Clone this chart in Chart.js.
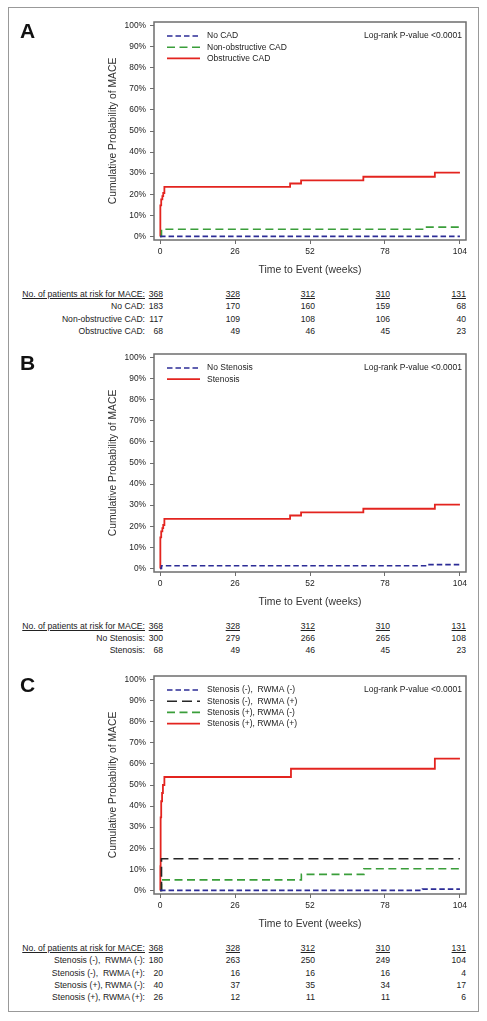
<!DOCTYPE html>
<html>
<head>
<meta charset="utf-8">
<script src="https://cdn.jsdelivr.net/npm/chart.js@4/dist/chart.umd.min.js"></script>
<style>
  body { margin: 0; background: #fff; }
  #page { position: relative; width: 487px; height: 1021px; font-family: "Liberation Sans", Arial, sans-serif; color: #222; }
  #frame { position: absolute; left: 8px; top: 7px; width: 471px; height: 1005px; border: 1px solid #999; box-sizing: border-box; }
  canvas { position: absolute; left: 0; }
  .letter { position: absolute; left: 20px; font-weight: bold; font-size: 21px; line-height: 24px; color: #111; }
  .cell { position: absolute; font-size: 8.6px; line-height: 12px; height: 12px; text-align: right; white-space: pre; color: #222; }
  .head { text-decoration: underline; }
</style>
</head>
<body>
<div id="page">
  <div id="frame"></div>
</div>
<script>
/* ==== DATOS ==== */
const xTicks = [0, 26, 52, 78, 104];
const yTicks = [0, 10, 20, 30, 40, 50, 60, 70, 80, 90, 100];

// Panel A
const aNoCadT = [0, 104];
const aNoCadP = [0, 0];
const aNonObsT = [0, 0.5, 91.9, 104];
const aNonObsP = [0, 3.4, 4.4, 4.4];
const aObsT = [0, 0.1, 0.4, 0.8, 1.1, 1.5, 45.1, 48.9, 70.5, 95.3, 104];
const aObsP = [0, 14.7, 17.6, 19.1, 20.6, 23.5, 25.1, 26.6, 28.3, 30.3, 30.3];

// Panel B
const bNoStenT = [0, 0.5, 92.4, 104];
const bNoStenP = [0, 1.3, 1.8, 1.8];
const bStenT = [0, 0.1, 0.4, 0.8, 1.1, 1.5, 45.1, 48.9, 70.5, 95.3, 104];
const bStenP = [0, 14.7, 17.6, 19.1, 20.6, 23.5, 25.1, 26.6, 28.3, 30.3, 30.3];

// Panel C
const cNegNegT = [0, 91.0, 104];
const cNegNegP = [0, 0.6, 0.6];
const cNegPosT = [0, 0.5, 104];
const cNegPosP = [0, 15.0, 15.0];
const cPosNegT = [0, 0.5, 49.0, 70.7, 104];
const cPosNegP = [0, 5.0, 7.6, 10.3, 10.3];
const cPosPosT = [0, 0.1, 0.2, 0.4, 0.7, 1.0, 1.5, 45.4, 95.3, 104];
const cPosPosP = [0, 11.5, 34.6, 42.3, 46.2, 50.0, 53.8, 57.7, 62.5, 62.5];

// Pacientes en riesgo
const riskHeader = "No. of patients at risk for MACE:";
const riskTotal = [368, 328, 312, 310, 131];
const riskALabels = ["No CAD:", "Non-obstructive CAD:", "Obstructive CAD:"];
const riskA = [[183, 170, 160, 159, 68], [117, 109, 108, 106, 40], [68, 49, 46, 45, 23]];
const riskBLabels = ["No Stenosis:", "Stenosis:"];
const riskB = [[300, 279, 266, 265, 108], [68, 49, 46, 45, 23]];
const riskCLabels = ["Stenosis (-),  RWMA (-):", "Stenosis (-),  RWMA (+):", "Stenosis (+), RWMA (-):", "Stenosis (+), RWMA (+):"];
const riskC = [[180, 263, 250, 249, 104], [20, 16, 16, 16, 4], [40, 37, 35, 34, 17], [26, 12, 11, 11, 6]];

const pText = "Log-rank P-value <0.0001";

/* ==== ESTILOS ==== */
const FONT = '"Liberation Sans", Arial, sans-serif';
const BLUE = "#2c2c96";
const GREEN = "#3a9e3a";
const RED = "#e3241f";
const BLACK = "#262626";
const BOX = "#6e6e6e";

const toPoints = (t, p) => t.map((v, i) => ({ x: v, y: p[i] }));

function line(label, t, p, color, dash, width) {
  return {
    label: label,
    data: toPoints(t, p),
    borderColor: color,
    borderDash: dash,
    borderWidth: width || 1.6,
    stepped: true,
    pointRadius: 0,
    fill: false
  };
}

// caja alrededor del área y leyenda interna
const kmPlugin = {
  id: "kmBox",
  afterDatasetsDraw(chart) {
    const { ctx, chartArea: a } = chart;
    ctx.save();
    ctx.strokeStyle = BOX;
    ctx.lineWidth = 1.5;
    ctx.setLineDash([]);
    ctx.strokeRect(a.left, a.top, a.right - a.left, a.bottom - a.top);

    ctx.font = "8.5px " + FONT;
    ctx.textBaseline = "middle";
    chart.data.datasets.forEach((ds, i) => {
      const y = a.top + 14 + i * 11.2;
      ctx.strokeStyle = ds.borderColor;
      ctx.lineWidth = ds.borderWidth;
      ctx.setLineDash(ds.borderDash);
      ctx.beginPath();
      ctx.moveTo(a.left + 13, y);
      ctx.lineTo(a.left + 46, y);
      ctx.stroke();
      ctx.setLineDash([]);
      ctx.fillStyle = "#222";
      ctx.textAlign = "left";
      ctx.fillText(ds.label, a.left + 53, y);
    });
    ctx.textAlign = "right";
    ctx.fillStyle = "#222";
    ctx.fillText(pText, a.right - 4, a.top + 14);
    ctx.restore();
  }
};

const page = document.getElementById("page");

function makePanel(letter, boxTop, datasets, rowLabels, rows) {
  const cv = document.createElement("canvas");
  cv.width = 487;
  cv.height = 268;
  cv.style.top = (boxTop - 10) + "px";
  page.appendChild(cv);

  const chart = new Chart(cv.getContext("2d"), {
    type: "line",
    data: { datasets: datasets },
    plugins: [kmPlugin],
    options: {
      responsive: false,
      animation: false,
      devicePixelRatio: 1,
      layout: { padding: { top: 10, right: 21, left: 100, bottom: 0 } },
      plugins: { legend: { display: false }, tooltip: { enabled: false } },
      scales: {
        x: {
          type: "linear",
          min: -2.1,
          max: 106.1,
          afterBuildTicks: s => { s.ticks = xTicks.map(v => ({ value: v })); },
          afterFit: s => { s.height = 40; },
          border: { display: false },
          grid: { drawOnChartArea: false, drawTicks: true, tickLength: 4, color: BOX },
          ticks: { color: "#222", font: { family: FONT, size: 8.5 }, padding: 3, maxRotation: 0 },
          title: { display: true, text: "Time to Event (weeks)", color: "#333", font: { family: FONT, size: 10.4 }, padding: { top: 0, bottom: 3.3 } }
        },
        y: {
          min: -1.7,
          max: 101.7,
          afterBuildTicks: s => { s.ticks = yTicks.map(v => ({ value: v })); },
          afterFit: s => { s.width = 54; },
          border: { display: false },
          grid: { drawOnChartArea: false, drawTicks: true, tickLength: 4, color: BOX },
          ticks: { color: "#222", font: { family: FONT, size: 8.4 }, padding: 4, callback: v => v + "%" },
          title: { display: true, text: "Cumulative Probability of MACE", color: "#333", font: { family: FONT, size: 10.3 }, padding: { top: 6.8, bottom: 0 } }
        }
      }
    }
  });

  // letra del panel
  const L = document.createElement("div");
  L.className = "letter";
  L.textContent = letter;
  L.style.top = (boxTop - 3) + "px";
  page.appendChild(L);

  // tabla de pacientes en riesgo, columnas alineadas a la escala x
  const xs = chart.scales.x;
  const offs = [3, 5, 5, 5, 6];
  const tableTop = chart.chartArea.bottom + (boxTop - 10) + 54;
  const allLabels = [riskHeader].concat(rowLabels);
  const allRows = [riskTotal].concat(rows);
  allLabels.forEach((lab, r) => {
    const yc = tableTop + r * 12.3;
    const lc = document.createElement("div");
    lc.className = "cell" + (r === 0 ? " head" : "");
    lc.textContent = lab;
    lc.style.left = "0px";
    lc.style.width = "145px";
    lc.style.top = (yc - 6) + "px";
    page.appendChild(lc);
    allRows[r].forEach((v, c) => {
      const px = xs.getPixelForValue(xTicks[c]) + offs[c];
      const vc = document.createElement("div");
      vc.className = "cell" + (r === 0 ? " head" : "");
      vc.textContent = v;
      vc.style.left = (px - 40) + "px";
      vc.style.width = "40px";
      vc.style.top = (yc - 6) + "px";
      page.appendChild(vc);
    });
  });
}

makePanel("A", 22, [
  line("No CAD", aNoCadT, aNoCadP, BLUE, [5.5, 3]),
  line("Non-obstructive CAD", aNonObsT, aNonObsP, GREEN, [8, 4.5]),
  line("Obstructive CAD", aObsT, aObsP, RED, [], 1.8)
], riskALabels, riskA);

makePanel("B", 353.5, [
  line("No Stenosis", bNoStenT, bNoStenP, BLUE, [5.5, 3]),
  line("Stenosis", bStenT, bStenP, RED, [], 1.8)
], riskBLabels, riskB);

makePanel("C", 676, [
  line("Stenosis (-),  RWMA (-)", cNegNegT, cNegNegP, BLUE, [5.5, 3]),
  line("Stenosis (-),  RWMA (+)", cNegPosT, cNegPosP, BLACK, [10, 5]),
  line("Stenosis (+), RWMA (-)", cPosNegT, cPosNegP, GREEN, [8, 4.5]),
  line("Stenosis (+), RWMA (+)", cPosPosT, cPosPosP, RED, [], 1.8)
], riskCLabels, riskC);
</script>
</body>
</html>
